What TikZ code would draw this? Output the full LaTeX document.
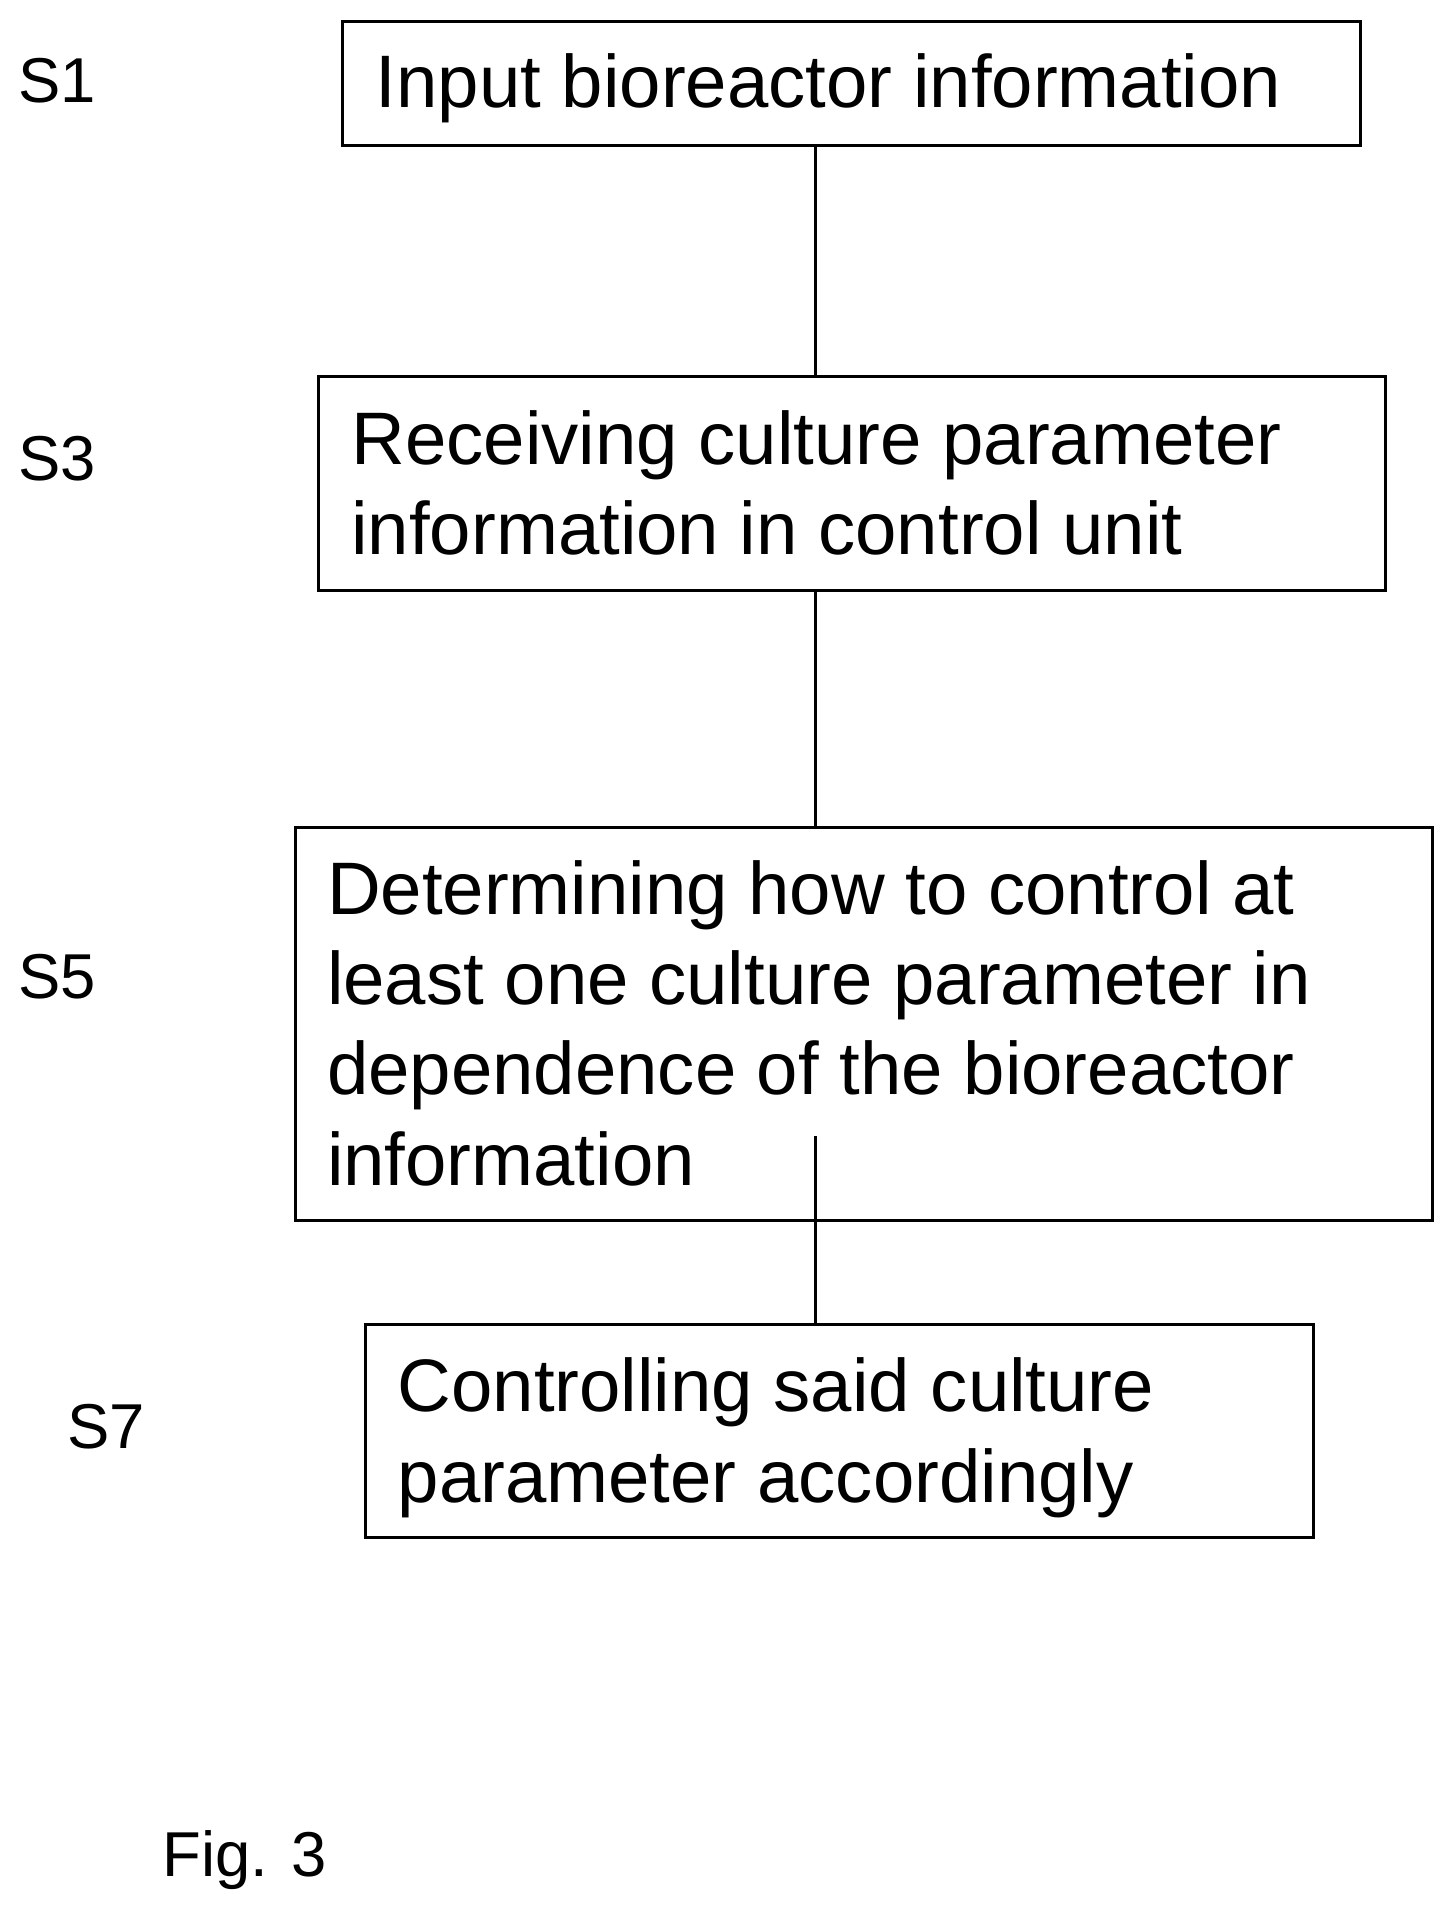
\documentclass[tikz,border=0pt]{standalone}
\usepackage{fontspec}
\setmainfont{Liberation Sans}
\begin{document}
\begin{tikzpicture}[x=1pt,y=-1pt,
  box/.style={draw,line width=2.5pt,inner sep=0,outer sep=0},
  txt/.style={anchor=base west,inner sep=0,align=left,font=\fontsize{61}{74}\selectfont},
  lab/.style={anchor=base west,inner sep=0,font=\fontsize{52}{60}\selectfont},
  con/.style={line width=2.5pt}]
\useasboundingbox (0,0) rectangle (1190,1564);
\node[box,minimum width=835,minimum height=101] (b1) at (698.5,68.5) {};
\node[box,minimum width=875,minimum height=175] (b3) at (698.5,396.5) {};
\node[box,minimum width=933,minimum height=322] (b5) at (708.5,840) {};
\node[box,minimum width=777,minimum height=175] (b7) at (688.5,1173.5) {};
\node[txt] (t1) at (308,88) {Input bioreactor information};
\node[txt] (t3) at (288,455) {Receiving culture parameter\\information in control unit};
\node[txt] (t5) at (268,972) {Determining how to control at\\least one culture parameter in\\dependence of the bioreactor\\information};
\node[txt] (t7) at (326,1232) {Controlling said culture\\parameter accordingly};
\node[lab] (s1) at (15,84) {S1};
\node[lab] (s3) at (15,394) {S3};
\node[lab] (s5) at (15,819) {S5};
\node[lab] (s7) at (55,1188) {S7};
\node[lab] (fig) at (133,1539) {Fig. 3};
\coordinate (x) at (669,0);
\coordinate (in5) at (669,932);
\draw[con] (b1.south -| x) -- (b3.north -| x);
\draw[con] (b3.south -| x) -- (b5.north -| x);
\draw[con] (in5) -- (b7.north -| x);
\end{tikzpicture}
\end{document}
